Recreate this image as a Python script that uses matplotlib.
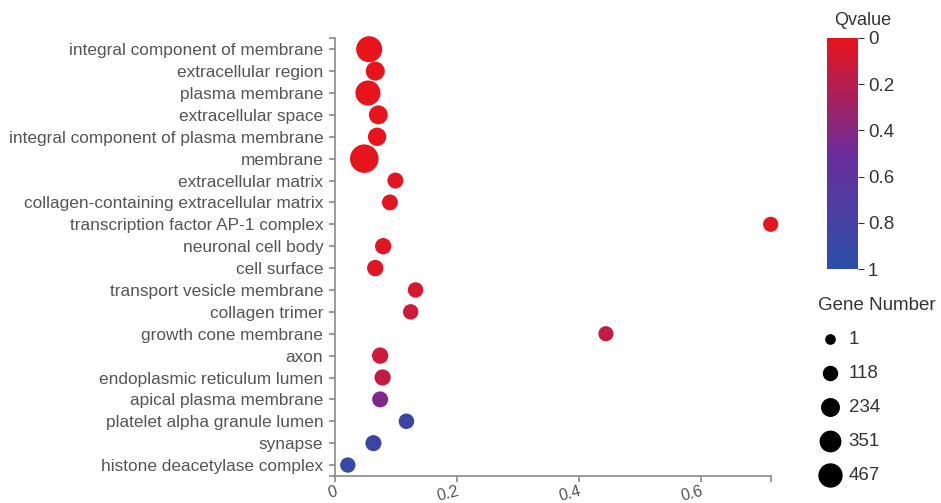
import matplotlib
matplotlib.use('Agg')
import matplotlib.pyplot as plt
from matplotlib.colors import LinearSegmentedColormap, Normalize
from matplotlib.cm import ScalarMappable

plt.rcParams['font.family'] = ['Liberation Sans', 'DejaVu Sans']

# GO terms (top to bottom)
terms = [
    'integral component of membrane', 'extracellular region', 'plasma membrane',
    'extracellular space', 'integral component of plasma membrane', 'membrane',
    'extracellular matrix', 'collagen-containing extracellular matrix',
    'transcription factor AP-1 complex', 'neuronal cell body', 'cell surface',
    'transport vesicle membrane', 'collagen trimer', 'growth cone membrane',
    'axon', 'endoplasmic reticulum lumen', 'apical plasma membrane',
    'platelet alpha granule lumen', 'synapse', 'histone deacetylase complex',
]
rich_factor = [0.056, 0.066, 0.054, 0.071, 0.069, 0.048, 0.099, 0.090, 0.714, 0.079,
               0.066, 0.132, 0.124, 0.444, 0.074, 0.078, 0.074, 0.117, 0.063, 0.021]
gene_number = [360, 110, 320, 105, 90, 467, 25, 24, 5, 35,
               35, 12, 12, 4, 35, 32, 26, 14, 28, 10]
qvalue = [0.0, 0.0, 0.0, 0.0, 0.0, 0.0, 0.02, 0.02, 0.02, 0.03,
          0.03, 0.06, 0.12, 0.15, 0.12, 0.15, 0.42, 0.86, 0.86, 0.9]
legend_genes = [1, 118, 234, 351, 467]

cmap = LinearSegmentedColormap.from_list('rb', ['#E8141C', '#6C2C9C', '#2A4FA8'])
norm = Normalize(0, 1)
grey = '#555555'
axis_grey = '#8a8a8a'

fig = plt.figure(figsize=(9.41, 5.03), dpi=100)
ax = fig.add_axes([0.356, 0.0537, 0.463, 0.8702])

ypos = list(range(len(terms)))[::-1]
sizes = [116.6 + 0.653 * (n - 1) for n in gene_number]
ax.scatter(rich_factor, ypos, s=sizes, c=qvalue, cmap=cmap, norm=norm,
           edgecolors='none', zorder=3, clip_on=False)

ax.set_ylim(-0.5, len(terms) - 0.5)
ax.set_yticks(ypos)
ax.set_yticklabels(terms, fontsize=12.45, color=grey)
ax.set_yticks([-0.5, len(terms) - 0.5], minor=True)

ax.set_xlim(0, max(rich_factor))
ax.set_xticks([0, 0.2, 0.4, 0.6])
ax.set_xticklabels(['0', '0.2', '0.4', '0.6'], fontsize=11.5, color=grey,
                   rotation=15, ha='right', rotation_mode='anchor')
ax.set_xticks([max(rich_factor)], minor=True)

for s in ['top', 'right']:
    ax.spines[s].set_visible(False)
for s in ['left', 'bottom']:
    ax.spines[s].set_color(axis_grey)
    ax.spines[s].set_linewidth(1.2)
ax.tick_params(which='both', length=4.5, width=1.2, color=axis_grey)
ax.tick_params(axis='y', pad=4)
ax.tick_params(axis='x', pad=1)

# colour bar
cax = fig.add_axes([0.8785, 0.4646, 0.0329, 0.4604])
cb = fig.colorbar(ScalarMappable(norm=norm, cmap=cmap), cax=cax)
cb.outline.set_visible(False)
cax.invert_yaxis()
cb.set_ticks([0, 0.2, 0.4, 0.6, 0.8, 1])
cb.set_ticklabels(['0', '0.2', '0.4', '0.6', '0.8', '1'])
cax.tick_params(labelsize=13.5, labelcolor='#333333', length=4, color='#333333')
cax.set_title('Qvalue', fontsize=13, color='#333333', pad=9, x=1.15)

# gene number legend
handles = [ax.scatter([], [], s=44.6 + 0.49 * (n - 1), color='black') for n in legend_genes]
leg = fig.legend(handles, [str(n) for n in legend_genes], title='Gene Number',
                 loc='upper left', bbox_to_anchor=(0.869, 0.41), frameon=False,
                 fontsize=13.5, title_fontsize=13.5, labelspacing=0.9,
                 handlelength=1.3, handletextpad=0.35, scatterpoints=1,
                 borderaxespad=0, borderpad=0, alignment='left')
leg.get_title().set_color('#333333')
for t in leg.get_texts():
    t.set_color('#333333')

fig.savefig('out.png', dpi=100)
